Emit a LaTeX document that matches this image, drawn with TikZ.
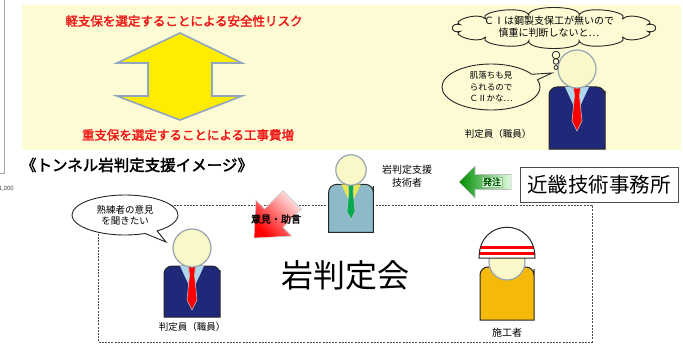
\documentclass[tikz,border=0pt]{standalone}
\usepackage{fontspec}
\setmainfont{Noto Sans CJK JP}[AutoFakeBold=2.2]
\usetikzlibrary{shapes.callouts}

\definecolor{cream}{RGB}{253,251,212}
\definecolor{facecol}{RGB}{250,248,200}
\definecolor{facerim}{RGB}{150,165,178}
\definecolor{navy}{RGB}{32,40,122}
\definecolor{skyblue}{RGB}{175,215,235}
\definecolor{steel}{RGB}{140,186,200}
\definecolor{tiegreen}{RGB}{0,170,80}
\definecolor{tieyellow}{RGB}{235,230,80}
\definecolor{amber}{RGB}{245,185,10}
\definecolor{arrowrim}{RGB}{145,165,190}
\definecolor{alarm}{RGB}{238,24,24}

\tikzset{
  % person in a suit: fill, tie, collar, body bottom
  pics/staff/.style n args={4}{code={
    \filldraw[fill=#1, draw=black!85, line width=1pt]
      (-28,#4) -- (-28,30) [rounded corners=8] -- (-28,18) -- (28,18) -- (28,30) [sharp corners] -- (28,#4) -- cycle;
    \fill[#3] (-12,18) -- (0,44) -- (12,18) -- cycle;
    \filldraw[fill=#2, draw=black!25, line width=.6pt]
      (-3.5,18) -- (3.5,18) -- (2.5,27) -- (5,52) -- (0,62) -- (-5,52) -- (-2.5,27) -- cycle;
    \filldraw[fill=facecol, draw=facerim, line width=1.2pt] (0,0) circle (19);
  }},
  % worker with helmet
  pics/builder/.style={code={
    \filldraw[fill=amber, draw=black!85, line width=1pt]
      (-27,58) -- (-27,15) [rounded corners=8] -- (-27,5) -- (27,5) -- (27,15) [sharp corners] -- (27,58) -- cycle;
    \filldraw[fill=skyblue, draw=facerim, line width=.5pt]
      (-9,4) -- (0,10) -- (9,4) -- (9,13) -- (0,10) -- (-9,13) -- cycle;
    \filldraw[fill=facecol, draw=facerim, line width=1.2pt] (0,0) circle (18);
    \fill[white] (-28,-4) .. controls (-28,-45) and (28,-45) .. (28,-4) -- cycle;
    \begin{scope}
      \clip (-28,-4) .. controls (-28,-45) and (28,-45) .. (28,-4) -- cycle;
      \draw[red, line width=2.2pt] (-30,-14.5) -- (30,-14.5) (-30,-8.5) -- (30,-8.5);
    \end{scope}
    \draw[black!85, line width=1pt] (-28,-4) .. controls (-28,-45) and (28,-45) .. (28,-4) -- cycle;
  }},
  hot/.style={text=alarm, font=\bfseries\fontsize{12.5}{14}\selectfont},
  tag/.style={font=\fontsize{9.5}{11}\selectfont, align=center, inner sep=0pt},
  bubble/.style={draw=black!85, line width=.9pt, inner sep=0pt}
}

\begin{document}
\begin{tikzpicture}[x=1pt, y=-1pt]
  \useasboundingbox (0,0) rectangle (683,345);

  % frame edge of the neighbouring chart
  \draw[black!35, line width=.6pt] (4,0) -- (4,173) -- (0,173);
  \node[font=\fontsize{6}{7}\selectfont, text=black!70, anchor=east, inner sep=0pt] (scale) at (14,189) {1,000};

  % ---------------- upper panel ----------------
  \fill[cream] (22,5) rectangle (681,150);

  \node[hot] (risk) at (184,21) {軽支保を選定することによる安全性リスク};
  \node[hot] (cost) at (188,135) {重支保を選定することによる工事費増};

  % trade-off double arrow
  \filldraw[fill=yellow!95!orange, draw=arrowrim, line width=1.6pt, line join=miter]
    (180,33) -- (242,63) -- (212,63) -- (212,96) -- (242,96) -- (180,120)
    -- (117,96) -- (148,96) -- (148,63) -- (117,63) -- cycle;

  % judge thinking
  \pic at (577,69) {staff={navy}{red}{skyblue}{80}};
  \node[tag] (judgeA) at (498,134) {判定員（職員）};

  % thought cloud: bumps laid round an ellipse
  \filldraw[fill=cream, draw=black!85, line width=.9pt]
    ({554+97*cos(15)}, {28+13*sin(15)})
    \foreach \t in {15,45,...,345} {
      .. controls ({554+97*cos(\t)+11*cos(\t)}, {28+13*sin(\t)+11*sin(\t)})
         and ({554+97*cos(\t+30)+11*cos(\t+30)}, {28+13*sin(\t+30)+11*sin(\t+30)})
      .. ({554+97*cos(\t+30)}, {28+13*sin(\t+30)})
    } -- cycle;
  \foreach \cy/\r in {55/3.8, 61.5/2.8, 67.5/2}
    \filldraw[fill=cream, draw=black!85, line width=.8pt] (556,\cy) circle (\r);
  \node[tag, font=\fontsize{10}{12}\selectfont] (worrytxt) at (549,27)
    {ＣⅠは鋼製支保工が無いので\\慎重に判断しないと…};

  \node[ellipse callout, bubble, fill=cream, minimum width=98, minimum height=46,
        callout absolute pointer={(552,73)}] (guess) at (491,87) {};
  \node[tag, font=\fontsize{8.5}{11.5}\selectfont] (guesstxt) at (guess.center)
    {肌落ちも見\\られるので\\ＣⅡかな…};

  % ---------------- lower part ----------------
  \node[font=\bfseries\fontsize{15.5}{17}\selectfont, inner sep=0pt] (title) at (137,165)
    {《トンネル岩判定支援イメージ》};

  % meeting area
  \draw[black!70, line width=.7pt, dash pattern=on 2pt off 1.2pt] (98,205) rectangle (592,342);
  \node[font=\fontsize{32}{34}\selectfont, inner sep=0pt] (meeting) at (345,275) {岩判定会};

  % support engineer
  \pic[scale=.8] at (351,170) {staff={steel}{tiegreen}{tieyellow}{78}};
  \node[tag, font=\fontsize{10}{13}\selectfont] (expert) at (407,176) {岩判定支援\\技術者};

  % ordering office and order arrow
  \node[draw=black!70, line width=.8pt, minimum width=158, minimum height=35,
        inner sep=0pt, font=\fontsize{20.5}{22}\selectfont] (office) at (599,185) {近畿技術事務所};
  \shade[left color=green!55!black, right color=green!12, draw=black!25, line width=.6pt]
    (459,182) -- (475,166) -- (475,174.5) -- (511,174.5) -- (511,189.5)
    -- (475,189.5) -- (475,198) -- cycle;
  \node[draw=green!35!black!40, fill=green!12, inner sep=1pt, text=green!35!black,
        font=\bfseries\fontsize{9}{10}\selectfont] (ordertxt) at (492,182) {発注};

  % advice arrow, pointing down to the left
  \shade[top color=red!8, bottom color=red, shading angle=-45, draw=black!20, line width=.6pt]
    (254,238) -- (256,200.5) -- (264.6,209) -- (283,190.6) -- (301.4,209)
    -- (283,227.4) -- (291.5,236) -- cycle;
  \node[tag, font=\bfseries\fontsize{10}{11}\selectfont] (advicetxt) at (276,219) {意見・助言};

  % judge at the meeting
  \pic at (192,248) {staff={navy}{red}{skyblue}{69}};
  \node[tag] (judgeB) at (192,327) {判定員（職員）};
  \node[ellipse callout, bubble, fill=white, minimum width=106, minimum height=40,
        callout absolute pointer={(166,242)}] (wish) at (125,215) {};
  \node[tag, font=\fontsize{9.5}{11}\selectfont] (wishtxt) at (wish.center)
    {熟練者の意見\\を聞きたい};

  % contractor
  \pic at (507,262) {builder};
  \node[tag, font=\fontsize{10}{11}\selectfont] (worker) at (507,333) {施工者};
\end{tikzpicture}
\end{document}
